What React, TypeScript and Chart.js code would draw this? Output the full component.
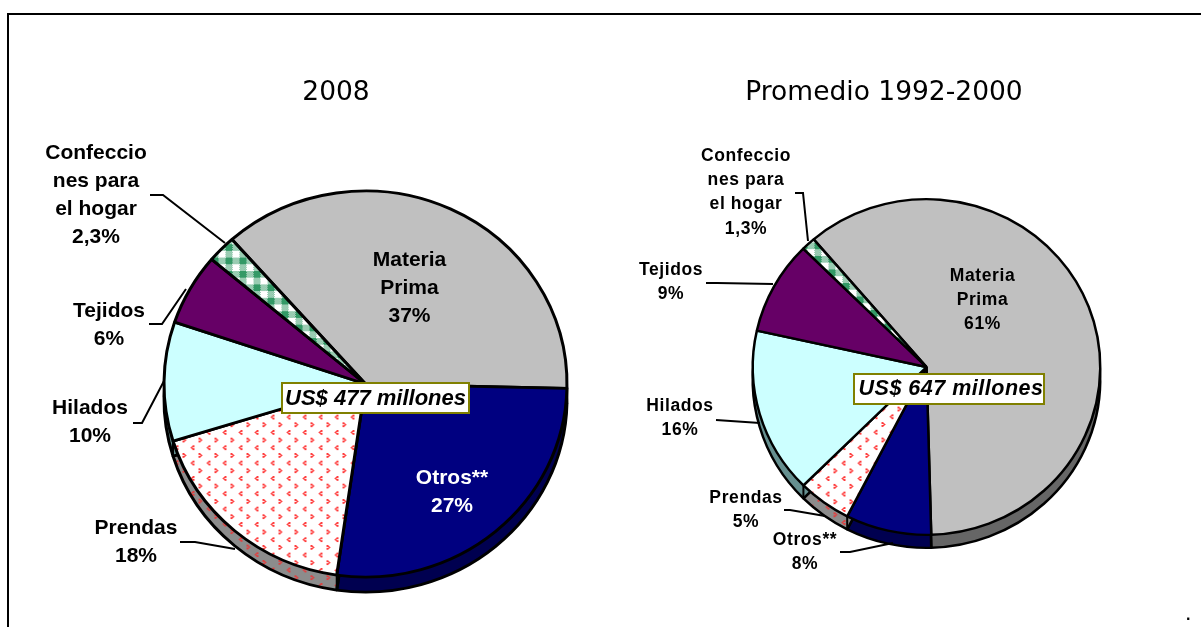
import React, { useEffect, useRef } from "react";
import { Chart, registerables } from "chart.js";

Chart.register(...registerables);

// ---- data ----
const sliceNames = [
  ["Materia", "Prima"],
  ["Otros**"],
  ["Prendas"],
  ["Hilados"],
  ["Tejidos"],
  ["Confeccio", "nes para", "el hogar"],
];
const categories = ["Materia Prima", "Otros**", "Prendas", "Hilados", "Tejidos", "Confecciones para el hogar"];
const values2008 = [37, 27, 18, 10, 6, 2.3];
const values1992 = [61, 8, 5, 16, 9, 1.3];
const title2008 = "2008";
const title1992 = "Promedio 1992-2000";
const total2008 = "US$ 477 millones";
const total1992 = "US$ 647 millones";

// ---- styling and layout (page coordinates) ----
type Pt = [number, number];
type Lab = { x: number; y: number; step: number; color?: string };
type Panel = {
  canvasLeft: number; canvasWidth: number; radius: number; cx: number; cy: number; ky: number; depth: number;
  rotation: number; titlePadTop: number; titlePadBottom: number; padBottom: number; font: number; spacing: string;
  border: number; labels: Lab[]; leaders: Pt[][];
  box: { x: number; y: number; w: number; h: number; font: number; spacing: string; dx: number };
  title: string; total: string; values: number[];
};

const panels: Panel[] = [
  {
    canvasLeft: 0, canvasWidth: 672, radius: 203, cx: 365.5, cy: 384, ky: 0.958, depth: 15, rotation: -41.5,
    titlePadTop: 76.9, titlePadBottom: 72.3, padBottom: 40, font: 21, spacing: "0px", border: 3,
    labels: [
      { x: 409.5, y: 260, step: 28, color: "#000" },
      { x: 452, y: 478, step: 28.5, color: "#fff" },
      { x: 136, y: 528, step: 28 },
      { x: 90, y: 408, step: 28 },
      { x: 109, y: 311, step: 28 },
      { x: 96, y: 153, step: 28 },
    ],
    leaders: [
      [[180, 542], [195, 542], [235, 549]],
      [[133, 423], [142, 423], [164, 381]],
      [[149, 324], [162, 324], [186, 289]],
      [[150, 195], [163, 195], [225, 243]],
    ],
    box: { x: 282, y: 383, w: 187, h: 30, font: 22, spacing: "0px", dx: 0 },
    title: title2008, total: total2008, values: values2008,
  },
  {
    canvasLeft: 590, canvasWidth: 588, radius: 175, cx: 926.5, cy: 367, ky: 0.966, depth: 13, rotation: -40.5,
    titlePadTop: 76.9, titlePadBottom: 83.3, padBottom: 85, font: 17.5, spacing: "0.6px", border: 2.5,
    labels: [
      { x: 982.5, y: 276, step: 24, color: "#000" },
      { x: 805, y: 540, step: 24 },
      { x: 746, y: 498, step: 24 },
      { x: 680, y: 406, step: 24 },
      { x: 671, y: 270, step: 24 },
      { x: 746, y: 156, step: 24.3 },
    ],
    leaders: [
      [[840, 552], [850, 552], [893, 543]],
      [[784, 510], [790, 510], [825, 516]],
      [[716, 420], [760, 423]],
      [[706, 283], [717, 283], [773, 284]],
      [[795, 193], [803, 193], [808, 241]],
    ],
    box: { x: 854, y: 374, w: 190, h: 30, font: 21.5, spacing: "0.5px", dx: 2 },
    title: title1992, total: total1992, values: values1992,
  },
];

function tile(w: number, h: number, paint: (c: CanvasRenderingContext2D) => void) {
  const t = document.createElement("canvas");
  t.width = w;
  t.height = h;
  const c = t.getContext("2d")!;
  paint(c);
  return c.createPattern(t, "repeat")!;
}

function chevronPattern(bg: string, ink: string) {
  return tile(16, 16, (c) => {
    c.fillStyle = bg;
    c.fillRect(0, 0, 16, 16);
    c.fillStyle = ink;
    const lt: Pt[] = [[3, 0], [2, 1], [1, 2], [2, 3], [3, 4], [4, 0], [3, 1], [2, 2], [3, 3], [4, 4], [4, 1], [4, 3]];
    const gt: Pt[] = [[9, 8], [10, 9], [11, 10], [10, 11], [9, 12], [10, 8], [11, 9], [12, 10], [11, 11], [10, 12], [9, 9], [9, 11]];
    [...lt, ...gt].forEach(([x, y]) => c.fillRect(x, y, 1, 1));
  });
}

function checkPattern(green: string) {
  return tile(14, 14, (c) => {
    c.fillStyle = "#fff";
    c.fillRect(0, 0, 14, 14);
    c.fillStyle = green;
    for (let y = 0; y < 14; y++) for (let x = 0; x < 14; x++) if ((x + y) % 2 === 0) c.fillRect(x, y, 1, 1);
    c.fillRect(0, 0, 7, 7);
    c.fillStyle = "#fff";
    c.fillRect(7, 7, 7, 7);
  });
}

const pct = (v: number) => String(v).replace(".", ",") + "%";

function makeChart(canvas: HTMLCanvasElement, p: Panel) {
  const faces = ["#C0C0C0", "#000080", chevronPattern("#ffffff", "#ff3b3b"), "#CCFFFF", "#660066", checkPattern("#339966")];
  const walls = ["#666666", "#000050", chevronPattern("#8c8c8c", "#e04040"), "#669090", "#330033", "#1c5c3c"];

  const tiltPlugin = {
    id: "tilt",
    beforeDatasetsDraw(chart: any) {
      const ctx = chart.ctx;
      const { chartArea: a } = chart;
      const cx0 = (a.left + a.right) / 2;
      const cy0 = (a.top + a.bottom) / 2;
      ctx.save();
      ctx.translate(p.cx - p.canvasLeft, p.cy);
      ctx.scale(1, p.ky);
      ctx.translate(-cx0, -cy0);
      // side wall of the pie, built from the library's own arc elements
      const arcs = chart.getDatasetMeta(0).data;
      const drawAt = (d: number, el: any, i: number, bw: number) => {
        const orig = el.options;
        el.options = Object.assign(Object.create(orig), { backgroundColor: walls[i], borderWidth: bw });
        ctx.save();
        ctx.translate(0, d / p.ky);
        el.draw(ctx);
        ctx.restore();
        el.options = orig;
      };
      for (let d = 1; d <= p.depth; d++) arcs.forEach((el: any, i: number) => drawAt(d, el, i, 0));
      arcs.forEach((el: any, i: number) => drawAt(p.depth, el, i, p.border));
      ctx.lineWidth = 2;
      ctx.strokeStyle = "#000";
      arcs.forEach((el: any) => {
        const sx = el.x + el.outerRadius * Math.cos(el.startAngle);
        const sy = el.y + el.outerRadius * Math.sin(el.startAngle);
        if (Math.sin(el.startAngle) > 0) {
          ctx.beginPath();
          ctx.moveTo(sx, sy);
          ctx.lineTo(sx, sy + p.depth / p.ky);
          ctx.stroke();
        }
      });
    },
    afterDatasetsDraw(chart: any) {
      const ctx = chart.ctx;
      ctx.restore();
      ctx.save();
      ctx.translate(-p.canvasLeft, 0);
      ctx.strokeStyle = "#000";
      ctx.lineWidth = 2;
      p.leaders.forEach((pts) => {
        ctx.beginPath();
        pts.forEach(([x, y], i) => (i ? ctx.lineTo(x, y) : ctx.moveTo(x, y)));
        ctx.stroke();
      });
      ctx.textAlign = "center";
      ctx.textBaseline = "middle";
      ctx.font = `bold ${p.font}px "Liberation Sans", Arial, sans-serif`;
      ctx.letterSpacing = p.spacing;
      p.labels.forEach((lab, i) => {
        ctx.fillStyle = lab.color || "#000";
        const lines = [...sliceNames[i], pct(p.values[i])];
        lines.forEach((t, j) => ctx.fillText(t, lab.x, lab.y + j * lab.step));
      });
      const b = p.box;
      ctx.fillStyle = "#fff";
      ctx.fillRect(b.x, b.y, b.w, b.h);
      ctx.strokeStyle = "#808000";
      ctx.lineWidth = 2;
      ctx.strokeRect(b.x, b.y, b.w, b.h);
      ctx.fillStyle = "#000";
      ctx.font = `italic bold ${b.font}px "Liberation Sans", Arial, sans-serif`;
      ctx.letterSpacing = b.spacing;
      ctx.fillText(p.total, b.x + b.w / 2 + b.dx, b.y + b.h / 2 + 0.5);
      ctx.restore();
    },
  };

  return new Chart(canvas, {
    type: "pie",
    data: {
      labels: categories,
      datasets: [{
        data: p.values,
        backgroundColor: faces,
        borderColor: "#000",
        borderWidth: p.border,
        clip: false,
      } as any],
    },
    options: {
      responsive: false,
      animation: false,
      rotation: p.rotation,
      layout: { padding: { bottom: p.padBottom } },
      events: [],
      plugins: {
        legend: { display: false },
        tooltip: { enabled: false },
        title: {
          display: true,
          text: p.title,
          color: "#000",
          font: { family: '"DejaVu Sans", Verdana, sans-serif', size: 26.5, weight: "normal", lineHeight: 1.2 },
          padding: { top: p.titlePadTop, bottom: p.titlePadBottom },
        },
      },
    } as any,
    plugins: [tiltPlugin as any],
  });
}

export default function App() {
  const ref0 = useRef<HTMLCanvasElement>(null);
  const ref1 = useRef<HTMLCanvasElement>(null);
  useEffect(() => {
    document.body.style.background = "#fff";
    const c0 = makeChart(ref0.current!, panels[0]);
    const c1 = makeChart(ref1.current!, panels[1]);
    return () => {
      c0.destroy();
      c1.destroy();
    };
  }, []);
  const abs = (left: number, width: number): React.CSSProperties => ({ position: "absolute", left, top: 0, width, height: 627 });
  return (
    <div style={{ position: "fixed", inset: 0, overflow: "hidden", background: "#fff" }}>
      <div style={{ position: "absolute", left: 7, top: 13, width: 1194, height: 620, borderTop: "2px solid #000", borderLeft: "2px solid #000", boxSizing: "border-box" }} />
      <canvas ref={ref0} width={panels[0].canvasWidth} height={627} style={abs(panels[0].canvasLeft, panels[0].canvasWidth)} />
      <canvas ref={ref1} width={panels[1].canvasWidth} height={627} style={abs(panels[1].canvasLeft, panels[1].canvasWidth)} />
      <div style={{ position: "absolute", left: 1186, top: 606, font: "bold 16px 'Liberation Sans'", color: "#000" }}>.</div>
    </div>
  );
}
